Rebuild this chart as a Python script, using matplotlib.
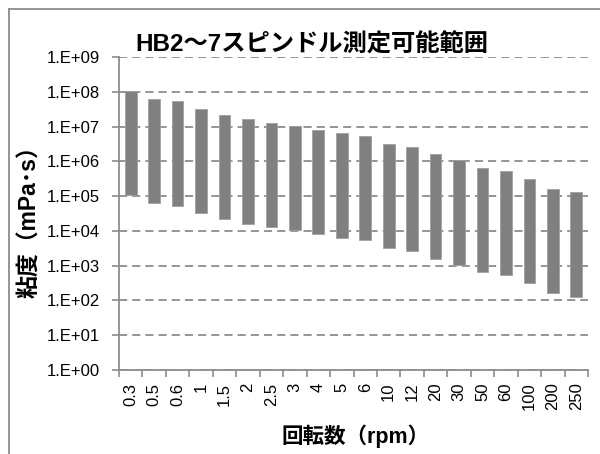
import matplotlib
matplotlib.use("Agg")
import matplotlib.pyplot as plt
from matplotlib.lines import Line2D
import numpy as np

plt.rcParams['font.family'] = ['Liberation Sans', 'Noto Sans CJK JP', 'DejaVu Sans']

categories = ["0.3", "0.5", "0.6", "1", "1.5", "2", "2.5", "3", "4", "5", "6",
              "10", "12", "20", "30", "50", "60", "100", "200", "250"]
visc_max = [1.07e8, 6.4e7, 5.33e7, 3.2e7, 2.13e7, 1.6e7, 1.28e7, 1.07e7, 8.0e6, 6.4e6,
            5.33e6, 3.2e6, 2.67e6, 1.6e6, 1.07e6, 6.4e5, 5.33e5, 3.2e5, 1.6e5, 1.28e5]
visc_min = [1.07e5, 6.4e4, 5.33e4, 3.2e4, 2.13e4, 1.6e4, 1.28e4, 1.07e4, 8.0e3, 6.4e3,
            5.33e3, 3.2e3, 2.67e3, 1.6e3, 1.07e3, 6.4e2, 5.33e2, 3.2e2, 1.6e2, 1.28e2]
y_ticks = [1e0, 1e1, 1e2, 1e3, 1e4, 1e5, 1e6, 1e7, 1e8, 1e9]
y_tick_labels = ["1.E+00", "1.E+01", "1.E+02", "1.E+03", "1.E+04", "1.E+05",
                 "1.E+06", "1.E+07", "1.E+08", "1.E+09"]

title = "HB2～7スピンドル測定可能範囲"
ylabel = "粘度（mPa･s）"
xlabel = "回転数（rpm）"

fig = plt.figure(figsize=(6.0, 4.54), dpi=100)
ax = fig.add_axes([119/600, 1 - 370/454, (588-119)/600, (370-57)/454])

x = np.arange(len(categories))
heights = [h - l for h, l in zip(visc_max, visc_min)]
ax.bar(x, heights, bottom=visc_min, width=0.5, color='#808080', edgecolor='#a0a0a0',
       linewidth=0.6, zorder=3)

ax.set_yscale('log')
ax.set_ylim(1e0, 1e9)
ax.set_xlim(-0.5, len(categories) - 0.5)
ax.set_yticks(y_ticks)
ax.set_yticklabels(y_tick_labels, fontsize=12)
ax.yaxis.set_minor_locator(matplotlib.ticker.NullLocator())
ax.grid(axis='y', which='major', color='#8c8c8c', linestyle=(0, (4.5, 2.8)), linewidth=1.3, zorder=1)

ax.set_xticks(x)
ax.set_xticklabels(categories, rotation=90, fontsize=12)
ax.set_xticks(np.arange(-0.5, len(categories)), minor=True)
ax.tick_params(axis='x', which='major', length=0, pad=9)
ax.tick_params(axis='x', which='minor', length=5, color='#8c8c8c', width=1.2)
ax.tick_params(axis='y', which='major', length=5, color='#8c8c8c', width=1.2, pad=9)

for s in ['top', 'right']:
    ax.spines[s].set_visible(False)
for s in ['left', 'bottom']:
    ax.spines[s].set_color('#8c8c8c')
    ax.spines[s].set_linewidth(1.3)

fig.text(312/600, 1 - 45/454, title, fontsize=17.5, fontweight='bold', ha='center', va='center')
fig.text(30/600, 1 - 216/454, ylabel, fontsize=16.5, fontweight='bold', rotation=90,
         ha='center', va='center')
fig.text(356/600, 1 - 436/454, xlabel, fontsize=15.5, fontweight='bold', ha='center', va='center')

# outer chart border
fig.add_artist(Line2D([9/600, 1], [1 - 9/454, 1 - 9/454], color='#8c8c8c', linewidth=1.3,
                      transform=fig.transFigure))
fig.add_artist(Line2D([9/600, 9/600], [0, 1 - 9/454], color='#8c8c8c', linewidth=1.3,
                      transform=fig.transFigure))

fig.savefig("out.png", dpi=100)
